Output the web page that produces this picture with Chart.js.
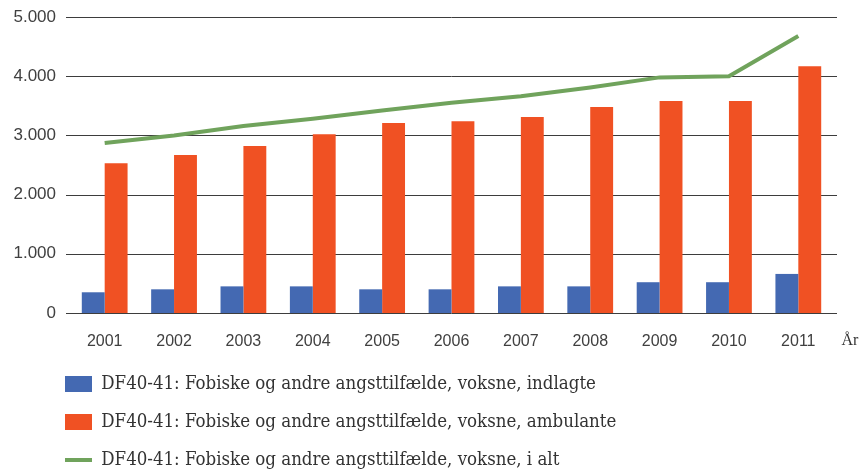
<!DOCTYPE html>
<html><head><meta charset="utf-8">
<script src="https://cdn.jsdelivr.net/npm/chart.js@4/dist/chart.umd.min.js"></script>
<style>html,body{margin:0;padding:0;background:#fff}</style>
</head><body>
<canvas id="c" width="865" height="473"></canvas>
<script>
const years = ['2001','2002','2003','2004','2005','2006','2007','2008','2009','2010','2011'];
const indlagte = [350,400,450,450,400,400,450,450,520,520,660];
const ambulante = [2530,2670,2820,3020,3210,3240,3310,3480,3580,3580,4170];
const iAlt = [2870,3000,3160,3280,3420,3550,3660,3810,3980,4000,4680];
const yTickValues = [0,1000,2000,3000,4000,5000];
const yTickLabels = ['0','1.000','2.000','3.000','4.000','5.000'];
const seriesNames = [
  'DF40-41: Fobiske og andre angsttilfælde, voksne, indlagte',
  'DF40-41: Fobiske og andre angsttilfælde, voksne, ambulante',
  'DF40-41: Fobiske og andre angsttilfælde, voksne, i alt'
];
const axisUnit = 'År';

const gridPlugin = {
  id: 'gridExt',
  afterLayout(chart) {
    const l = chart.legend;
    if (l) { l.left += 45.5; l.right += 45.5; }
  },
  beforeDatasetsDraw(chart) {
    const {ctx, chartArea, scales} = chart;
    ctx.save();
    ctx.strokeStyle = '#3d3d3d';
    ctx.lineWidth = 1;
    yTickValues.forEach(v => {
      const y = Math.round(scales.y.getPixelForValue(v)) + 0.5;
      ctx.beginPath();
      ctx.moveTo(chartArea.left - 4, y);
      ctx.lineTo(chartArea.right + 4, y);
      ctx.stroke();
    });
    ctx.restore();
  },
  afterDraw(chart) {
    const {ctx, chartArea, scales} = chart;
    ctx.save();
    ctx.font = '16px "Liberation Serif"';
    ctx.fillStyle = '#333';
    ctx.textAlign = 'center';
    ctx.textBaseline = 'middle';
    ctx.fillText(axisUnit, chartArea.right + 17, scales.x.top + 18.5 + 9.6);
    ctx.restore();
  }
};

new Chart(document.getElementById('c'), {
  type: 'bar',
  data: {
    labels: years,
    datasets: [
      {label: seriesNames[0], data: indlagte, backgroundColor: '#4469b2', borderWidth: 0, pointStyle: 'rect'},
      {label: seriesNames[1], data: ambulante, backgroundColor: '#f05123', borderWidth: 0, pointStyle: 'rect'},
      {type: 'line', label: seriesNames[2], data: iAlt, borderColor: '#70a35c', backgroundColor: '#70a35c',
       borderWidth: 4, pointRadius: 0, pointStyle: 'line', tension: 0, fill: false}
    ]
  },
  plugins: [gridPlugin],
  options: {
    responsive: false,
    animation: false,
    devicePixelRatio: 1,
    categoryPercentage: 0.66,
    barPercentage: 1,
    layout: {padding: {left: 0, right: 32, top: 17, bottom: -6.25}},
    plugins: {
      tooltip: {enabled: false},
      legend: {
        position: 'bottom',
        align: 'start',
        labels: {
          usePointStyle: true,
          pointStyleWidth: 27,
          boxHeight: 16,
          padding: 19.5,
          color: '#333',
          font: {family: '"DejaVu Serif Condensed"', size: 18.5}
        }
      }
    },
    scales: {
      x: {
        grid: {display: false, drawTicks: false},
        border: {display: false},
        ticks: {color: '#404040', font: {family: '"Liberation Sans"', size: 16}, padding: 18.5, maxRotation: 0, autoSkip: false},
        afterFit(s) { s.height = 42.25; }
      },
      y: {
        min: 0, max: 5000,
        grid: {display: false, drawTicks: false},
        border: {display: false},
        ticks: {
          stepSize: 1000,
          color: '#404040',
          font: {family: '"Liberation Sans"', size: 17},
          padding: 14,
          callback: v => yTickLabels[yTickValues.indexOf(v)]
        },
        afterFit(s) { s.width = 70; s.paddingTop = 0; s.paddingBottom = 0; }
      }
    }
  }
});
</script>
</body></html>
